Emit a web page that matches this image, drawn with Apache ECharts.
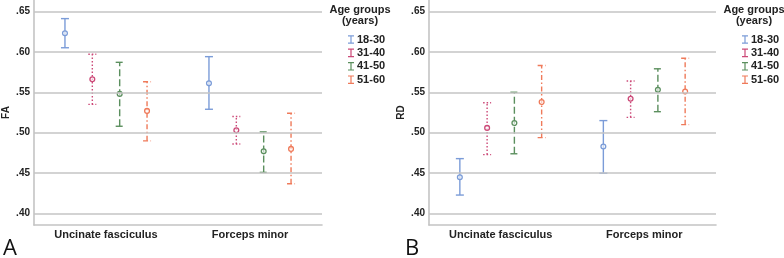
<!DOCTYPE html>
<html>
<head>
<meta charset="utf-8">
<script src="https://cdn.jsdelivr.net/npm/echarts@6/dist/echarts.min.js"></script>
<style>
  html, body { margin: 0; padding: 0; background: #fff; }
  #chart { width: 784px; height: 258px; }
</style>
</head>
<body>
<div id="chart"></div>
<script>
const categories = ['Uncinate fasciculus', 'Forceps minor'];
const groups = ['18-30', '31-40', '41-50', '51-60'];
const yTicks = [0.40, 0.45, 0.50, 0.55, 0.60, 0.65];

// FA: per group, [uncinate, forceps]
const faMean = [[0.623, 0.561], [0.566, 0.503], [0.548, 0.477], [0.527, 0.480]];
const faLow  = [[0.605, 0.529], [0.535, 0.486], [0.508, 0.451], [0.490, 0.437]];
const faHigh = [[0.641, 0.594], [0.597, 0.520], [0.587, 0.501], [0.563, 0.524]];

// RD
const rdMean = [[0.445, 0.483], [0.506, 0.542], [0.512, 0.553], [0.538, 0.551]];
const rdLow  = [[0.423, 0.450], [0.473, 0.519], [0.474, 0.526], [0.494, 0.510]];
const rdHigh = [[0.468, 0.515], [0.537, 0.564], [0.550, 0.579], [0.583, 0.592]];

const colors = ['#7b9cd8', '#cc4a78', '#5b8f5e', '#ef7a5a'];
const dashes = [null, [1.5, 2], [7, 3], [5, 2.5, 1.5, 2.5]];
const offsets = [-0.285, -0.095, 0.095, 0.285];

const chart = echarts.init(document.getElementById('chart'));

function errorSeries(gi, axisIdx, mean, low, high) {
  return {
    name: groups[gi],
    type: 'custom',
    xAxisIndex: axisIdx,
    yAxisIndex: axisIdx,
    itemStyle: { color: colors[gi] },
    data: categories.map((c, ci) => [ci, mean[gi][ci], low[gi][ci], high[gi][ci]]),
    renderItem: function (params, api) {
      const ci = api.value(0);
      const band = api.size([1, 0])[0];
      const pm = api.coord([ci, api.value(1)]);
      const pl = api.coord([ci, api.value(2)]);
      const ph = api.coord([ci, api.value(3)]);
      const x = pm[0] + offsets[gi] * band;
      const cap = 4;
      const st = { stroke: colors[gi], lineWidth: 1.4, lineDash: dashes[gi] };
      return {
        type: 'group',
        children: [
          { type: 'line', shape: { x1: x, y1: pl[1], x2: x, y2: ph[1] }, style: st },
          { type: 'line', shape: { x1: x - cap, y1: ph[1], x2: x + cap, y2: ph[1] }, style: st },
          { type: 'line', shape: { x1: x - cap, y1: pl[1], x2: x + cap, y2: pl[1] }, style: st },
          { type: 'circle', shape: { cx: x, cy: pm[1], r: 2.4 },
            style: { stroke: colors[gi], lineWidth: 1.3, fill: 'rgba(255,255,255,0.6)' } }
        ]
      };
    }
  };
}

function gridLines(axisIdx) {
  return {
    type: 'line',
    xAxisIndex: axisIdx,
    yAxisIndex: axisIdx,
    data: [],
    silent: true,
    markLine: {
      silent: true,
      symbol: 'none',
      label: { show: false },
      lineStyle: { color: '#c4c4c4', width: 1.6, type: 'solid' },
      data: yTicks.map(v => ({ yAxis: v }))
    }
  };
}

const iBeam = 'path://M0,0h7v1.4h-2.8v7.2h2.8v1.4h-7v-1.4h2.8v-7.2h-2.8z';

function legendAt(left) {
  return {
    orient: 'vertical',
    left: left,
    top: 29,
    itemWidth: 6,
    itemHeight: 10,
    itemGap: 2.4,
    selectedMode: false,
    data: groups.map(g => ({ name: g, icon: iBeam })),
    textStyle: { fontFamily: 'Liberation Sans', fontWeight: 'bold', fontSize: 11, color: '#222', padding: [0, 0, 0, -2] }
  };
}

const xAxisBase = {
  type: 'category',
  data: categories,
  axisLine: { lineStyle: { color: '#c4c4c4', width: 1.6 } },
  axisTick: { show: false },
  axisLabel: { fontFamily: 'Liberation Sans', fontWeight: 'bold', fontSize: 11, color: '#222', margin: 4 }
};

function yAxisDef(name) {
  return {
    type: 'value',
    min: 0.386,
    max: 0.664,
    name: name,
    nameLocation: 'middle',
    nameGap: 23,
    nameTextStyle: { fontFamily: 'Liberation Sans', fontWeight: 'bold', fontSize: 10, color: '#222' },
    axisLine: { show: true, lineStyle: { color: '#c4c4c4', width: 1.6 } },
    axisTick: { show: false },
    splitLine: { show: false },
    axisLabel: {
      customValues: yTicks,
      fontFamily: 'Liberation Sans', fontWeight: 'bold', fontSize: 10, color: '#222', margin: 4,
      formatter: v => v.toFixed(2).slice(1)
    }
  };
}

const series = [gridLines(0), gridLines(1)];
groups.forEach((g, gi) => {
  series.push(errorSeries(gi, 0, faMean, faLow, faHigh));
  series.push(errorSeries(gi, 1, rdMean, rdLow, rdHigh));
});

const titleStyle = { fontFamily: 'Liberation Sans', fontWeight: 'bold', fontSize: 11, color: '#222', lineHeight: 11, align: 'center' };

chart.setOption({
  animation: false,
  grid: [
    { left: 34, width: 288, top: 0, bottom: 33 },
    { left: 429, width: 287, top: 0, bottom: 33 }
  ],
  xAxis: [Object.assign({ gridIndex: 0 }, xAxisBase), Object.assign({ gridIndex: 1 }, xAxisBase)],
  yAxis: [Object.assign({ gridIndex: 0 }, yAxisDef('FA')), Object.assign({ gridIndex: 1 }, yAxisDef('RD'))],
  legend: [legendAt(343), legendAt(737)],
  title: [
    { text: 'Age groups\n(years)', left: 360, top: 4, textAlign: 'center', padding: 0, textStyle: titleStyle },
    { text: 'Age groups\n(years)', left: 754, top: 4, textAlign: 'center', padding: 0, textStyle: titleStyle },
    { text: 'A', left: 3, top: 238, padding: 0, textStyle: { fontFamily: 'Open Sans', fontWeight: 'normal', fontSize: 22, color: '#111' } },
    { text: 'B', left: 405, top: 238, padding: 0, textStyle: { fontFamily: 'Open Sans', fontWeight: 'normal', fontSize: 22, color: '#111' } }
  ],
  series: series
});
</script>
</body>
</html>
